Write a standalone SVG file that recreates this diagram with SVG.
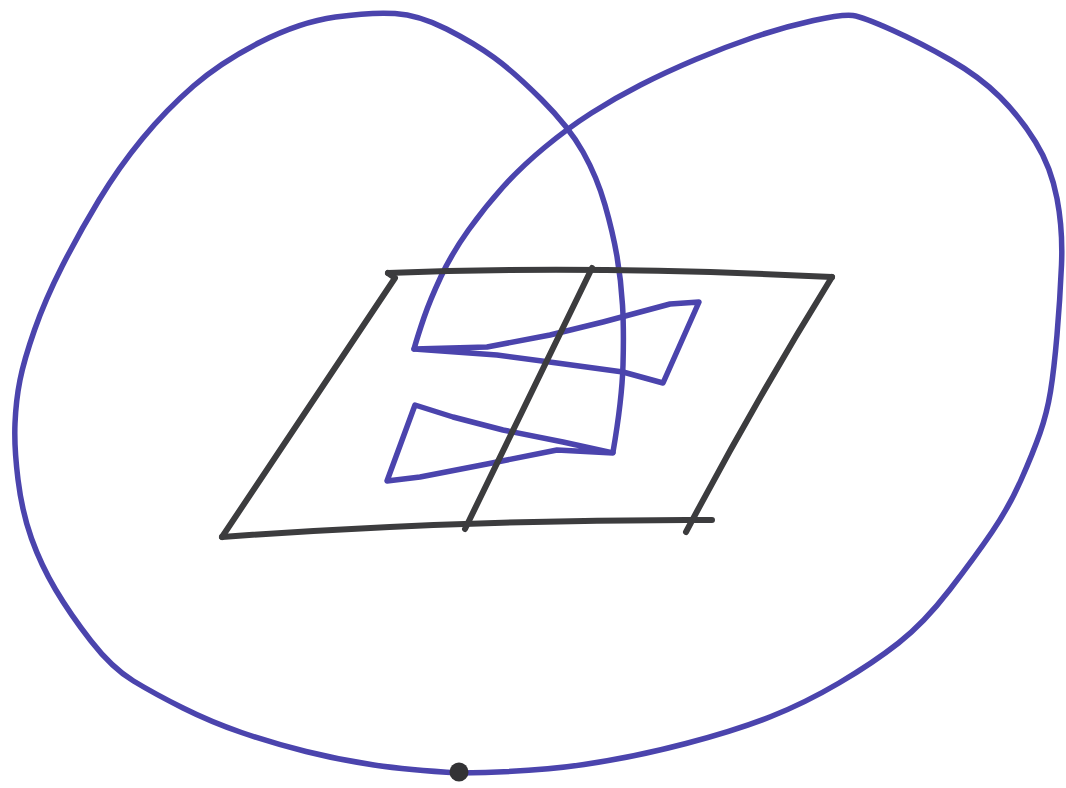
<svg xmlns="http://www.w3.org/2000/svg" width="1066" height="788" viewBox="0 0 1066 788">
<style>
.ink{fill:none;stroke:#4b44ad;stroke-width:5.5;stroke-linecap:round;stroke-linejoin:round}
.pen{fill:none;stroke:#3c3c3e;stroke-width:6;stroke-linecap:round;stroke-linejoin:round}
</style>
<rect width="1066" height="788" fill="#ffffff"/>
<g id="connectors">
<path id="left-loop" class="ink" d="M459,773 Q408,770 374,765 Q340,760 306,751.5 Q272,743 241.5,732.5 Q211,722 183,708 Q155,694 133.5,681 Q112,668 91,641 Q70,614 55.5,589.5 Q41,565 31.5,538.5 Q22,512 18,479.5 Q14,447 15,423.5 Q16,400 20,380 Q24,360 34.5,330 Q45,300 62,266.5 Q79,233 99,200 Q119,167 142.5,138.5 Q166,110 193.5,86 Q221,62 260.5,42 Q300,22 335.5,17 Q371,12 395,13.5 Q419,15 446.5,29 Q474,43 494,57.5 Q514,72 541.5,99.5 Q569,127 583,152 Q597,177 605,205 Q613,233 617,256.5 Q621,280 622.5,305 Q624,330 623,365 Q622,400 613,452"/>
<path id="right-loop" class="ink" d="M459,773 Q533,772 584,764.5 Q635,757 686,743.5 Q737,730 771,716.5 Q805,703 839,683 Q873,663 898.5,643 Q924,623 949.5,590 Q975,557 992,532 Q1009,507 1021,480 Q1033,453 1040,433 Q1047,413 1050.5,391.5 Q1054,370 1057,335 Q1060,300 1061.5,265 Q1063,230 1057,198.5 Q1051,167 1035.5,142 Q1020,117 1000,97 Q980,77 950.5,60 Q921,43 892,30 Q863,17 853,15.5 Q843,14 813.5,20.5 Q784,27 754.5,37 Q725,47 695.5,59.5 Q666,72 640.5,85 Q615,98 591.5,113 Q568,128 544.5,147.5 Q521,167 503,187 Q485,207 468.5,230 Q452,253 441,276.5 Q430,300 424,317.5 Q418,335 414,349"/>
<path id="upper-wedge" class="ink" d="M414,349 L487,347 L550,335 L603,322 L670,304 L699,302 L663,383 L623,372 L557,363 L497,355 Z"/>
<path id="lower-wedge" class="ink" d="M613,453 L557,450 L487,464 L420,477 L387,481 L415,405 L453,417 L503,430 L563,442 Z"/>
</g>
<g id="plane">
<path class="pen" d="M388,273 Q590,265 832,277"/>
<path class="pen" d="M832,277 Q757,398 686,532"/>
<path class="pen" d="M222,537 Q466,519 712,520"/>
<path class="pen" d="M388,273 L395,278 L222,537"/>
<path class="pen" d="M592,268 L465,529"/>
</g>
<g id="point">
<circle cx="459" cy="772" r="9.5" fill="#333335"/>
</g>
</svg>
